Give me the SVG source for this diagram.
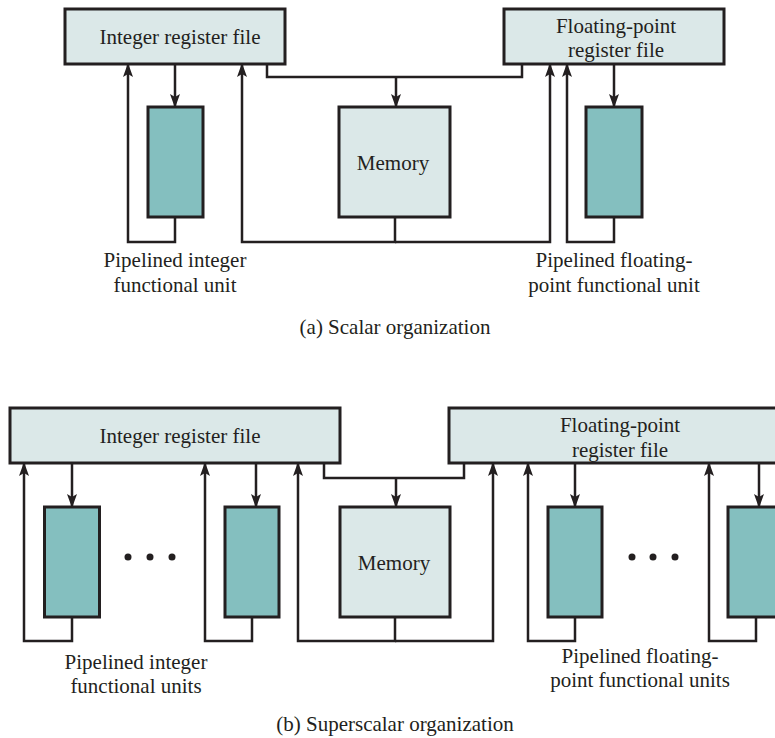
<svg xmlns="http://www.w3.org/2000/svg" width="775" height="738" viewBox="0 0 775 738">
<defs>
<style>
.reg{fill:#dbe8e8;stroke:#231f20;stroke-width:3}
.mem{fill:#dbe8e8;stroke:#231f20;stroke-width:3}
.unit{fill:#84bfbf;stroke:#231f20;stroke-width:3}
.ln{fill:none;stroke:#231f20;stroke-width:2.5}
.ar{marker-end:url(#ah)}
text{font-family:"Liberation Serif","Times New Roman",serif;font-size:21px;fill:#231f20;text-anchor:middle}
.dot{fill:#231f20}
</style>
<marker id="ah" markerUnits="userSpaceOnUse" viewBox="0 0 14 10" refX="13" refY="5" markerWidth="14" markerHeight="10" orient="auto">
<path d="M0,0 L14,5 L0,10 L3,5 Z" fill="#231f20"/>
</marker>
</defs>
<rect width="775" height="738" fill="#ffffff"/>

<g id="a-int-reg"><rect class="reg" x="65" y="9" width="220" height="55"/><text x="180" y="44">Integer register file</text></g>
<g id="a-fp-reg"><rect class="reg" x="504" y="9" width="220" height="55"/><text x="616" y="33">Floating-point</text><text x="616" y="57">register file</text></g>
<g id="a-int-unit"><rect class="unit" x="148" y="107" width="55" height="110"/></g>
<g id="a-memory"><rect class="mem" x="339" y="107" width="111" height="110"/><text x="393" y="170">Memory</text></g>
<g id="a-fp-unit"><rect class="unit" x="586" y="107" width="56" height="110"/></g>
<g id="a-labels">
<text x="175" y="267">Pipelined integer</text><text x="175" y="292">functional unit</text>
<text x="614" y="267">Pipelined floating-</text><text x="614" y="292">point functional unit</text>
<text x="395" y="334">(a) Scalar organization</text>
</g>

<g id="b-int-reg"><rect class="reg" x="10" y="408" width="330" height="55"/><text x="180" y="443">Integer register file</text></g>
<g id="b-fp-reg"><rect class="reg" x="449" y="408" width="345" height="55"/><text x="620" y="432">Floating-point</text><text x="620" y="457">register file</text></g>
<g id="b-int-unit-1"><rect class="unit" x="44.5" y="507" width="55" height="110"/></g>
<g id="b-int-unit-n"><rect class="unit" x="225" y="507" width="54" height="110"/></g>
<g id="b-memory"><rect class="mem" x="340" y="507" width="110" height="110"/><text x="394" y="570">Memory</text></g>
<g id="b-fp-unit-1"><rect class="unit" x="548" y="507" width="54" height="110"/></g>
<g id="b-fp-unit-n"><rect class="unit" x="728" y="507" width="60" height="110"/></g>
<g id="b-dots">
<circle class="dot" cx="128" cy="557" r="3.5"/><circle class="dot" cx="150" cy="557" r="3.5"/><circle class="dot" cx="172" cy="557" r="3.5"/>
<circle class="dot" cx="632" cy="557" r="3.5"/><circle class="dot" cx="653" cy="557" r="3.5"/><circle class="dot" cx="675" cy="557" r="3.5"/>
</g>
<g id="b-labels">
<text x="136" y="669">Pipelined integer</text><text x="136" y="693">functional units</text>
<text x="640" y="663">Pipelined floating-</text><text x="640" y="687">point functional units</text>
<text x="395" y="731">(b) Superscalar organization</text>
</g>

<g id="connectors">
<path class="ln ar" d="M175,64 V107"/>
<path class="ln ar" d="M175,217 V242 H128 V64"/>
<path class="ln ar" d="M395,217 V242 H242 V64"/>
<path class="ln ar" d="M395,242 H550 V64"/>
<path class="ln" d="M267,64 V77 H522 V64"/>
<path class="ln ar" d="M396,77 V107"/>
<path class="ln ar" d="M614,64 V107"/>
<path class="ln ar" d="M614,217 V242 H567 V64"/>

<path class="ln ar" d="M72,463 V507"/>
<path class="ln ar" d="M72,617 V641 H24 V463"/>
<path class="ln ar" d="M256,463 V507"/>
<path class="ln ar" d="M252,617 V641 H205 V463"/>
<path class="ln ar" d="M395,617 V641 H298 V463"/>
<path class="ln ar" d="M395,641 H493 V463"/>
<path class="ln" d="M324,463 V478 H464 V463"/>
<path class="ln ar" d="M396,478 V507"/>
<path class="ln ar" d="M575,463 V507"/>
<path class="ln ar" d="M575,617 V641 H528 V463"/>
<path class="ln ar" d="M759,463 V507"/>
<path class="ln ar" d="M756,617 V641 H709 V463"/>
</g>
</svg>
